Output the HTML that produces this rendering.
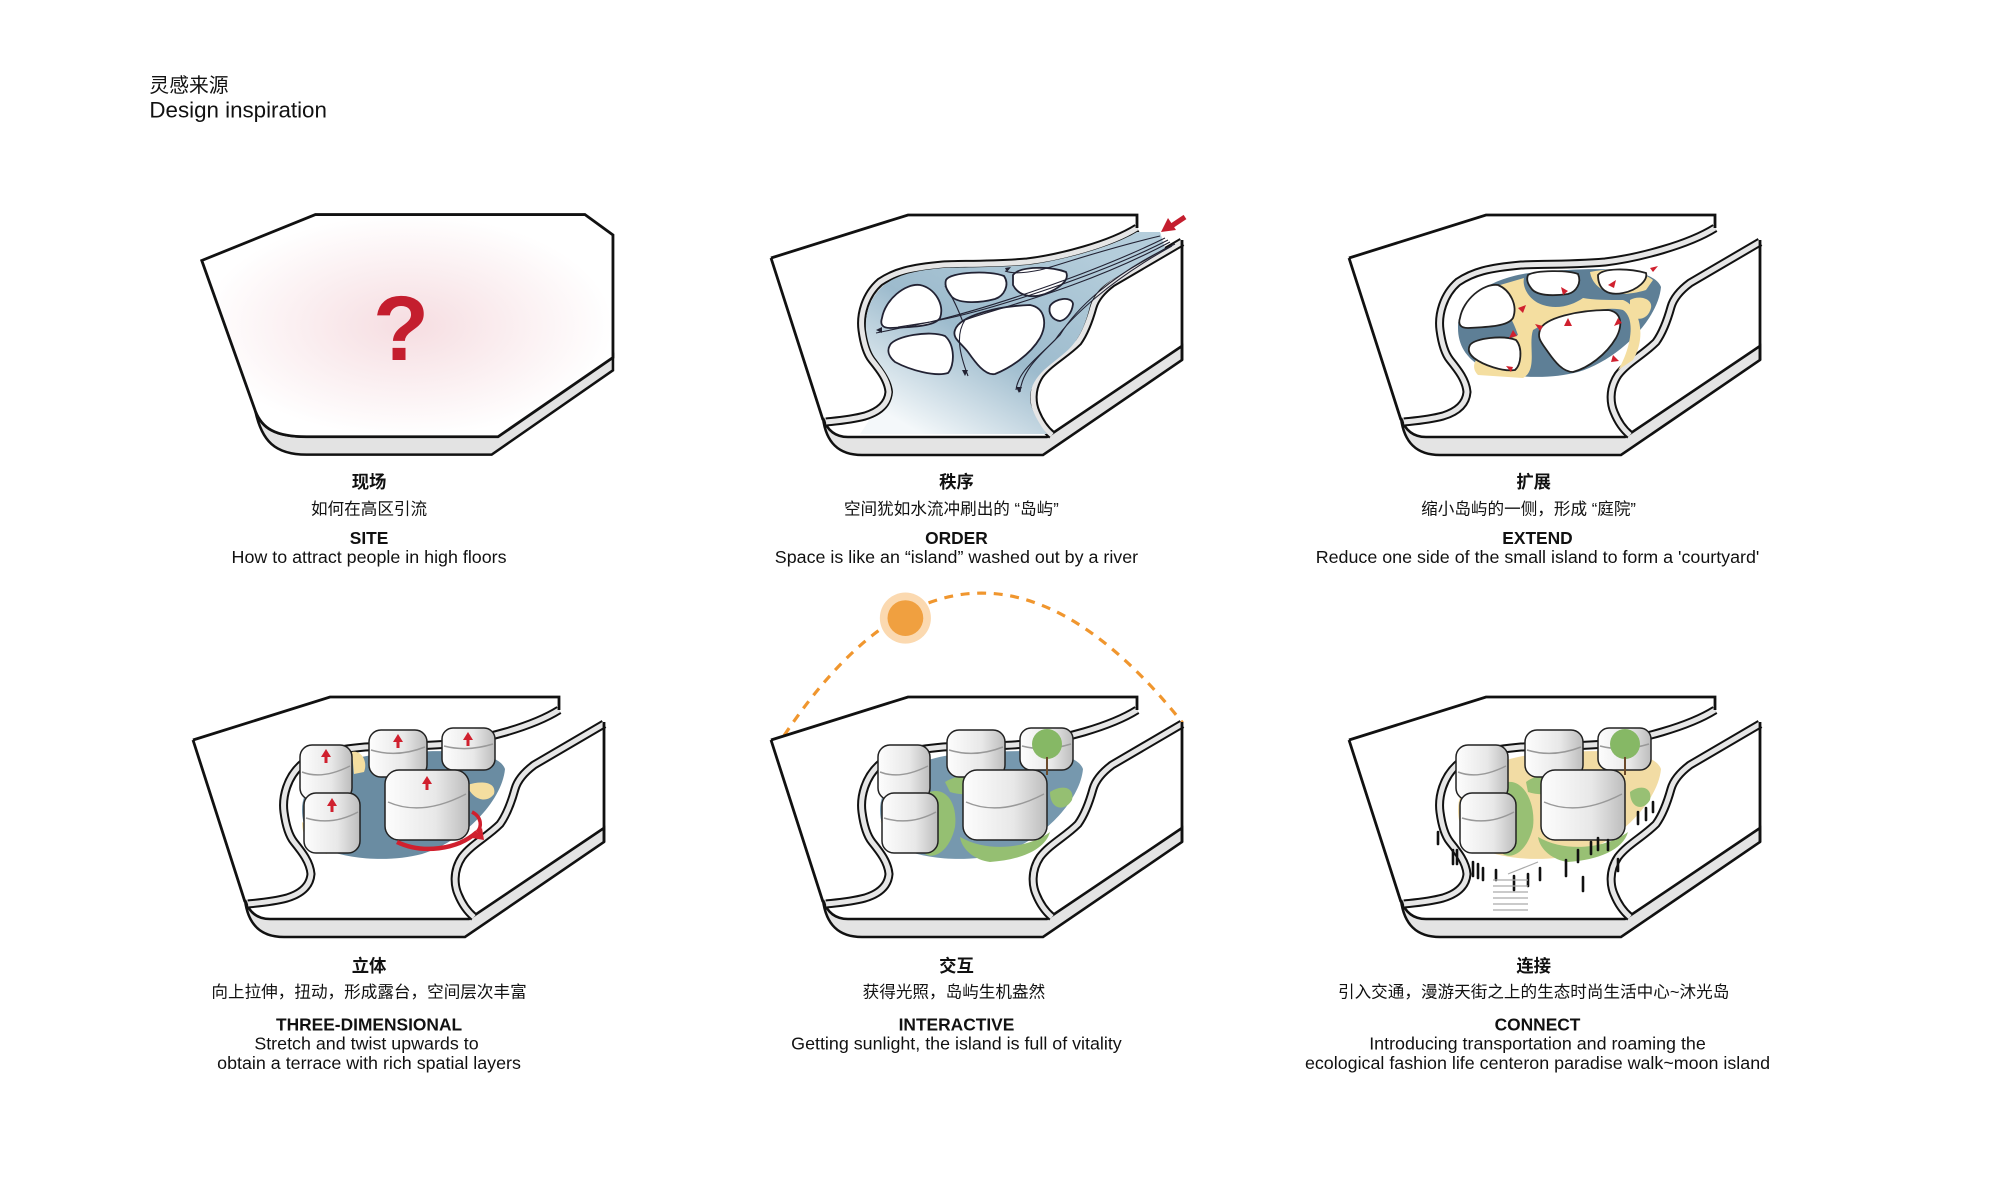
<!DOCTYPE html>
<html><head><meta charset="utf-8"><style>
html,body{margin:0;padding:0;background:#fff}
svg{display:block}
text{font-family:"Liberation Sans","Noto Sans CJK SC",sans-serif;fill:#111}
.c{text-anchor:middle;font-size:13px}
.e{text-anchor:middle;font-size:14px}
.b{font-weight:bold;font-size:13.6px}
</style></head><body>
<svg width="2000" height="1186" viewBox="0 0 2000 1186" xmlns="http://www.w3.org/2000/svg">
<defs>
<radialGradient id="pink" cx="0.5" cy="0.5" r="0.5"><stop offset="0" stop-color="#f6dde1"/><stop offset="1" stop-color="#fff"/></radialGradient>
<linearGradient id="blue" x1="0.9" y1="0.2" x2="0.2" y2="1"><stop offset="0" stop-color="#b4cddb"/><stop offset="0.55" stop-color="#9dbbcd"/><stop offset="1" stop-color="#f4f8fa"/></linearGradient>
<linearGradient id="bld" x1="0" y1="0" x2="1" y2="0"><stop offset="0" stop-color="#fdfdfd"/><stop offset="0.6" stop-color="#e8e8e8"/><stop offset="1" stop-color="#bdbdbd"/></linearGradient>
<path id="w1" d="M1137,228 C1110,245 1060,258 1027,262 C990,265 960,264 943,265 C910,268 895,272 880,282 C865,295 860,315 862,330 C864,345 868,355 872,360 C880,370 888,380 889,392 C888,405 878,412 865,416 C850,420 835,421 826,422"/>
<path id="w2" d="M1182,242 L1112,283 C1100,292 1095,300 1093,307 C1088,325 1083,335 1078,342 C1065,355 1050,362 1040,375 C1030,390 1033,405 1036,412 C1040,422 1046,430 1052,435"/>
<g id="slab">
 <path d="M771,258 L908,215 L1137,215 L1137,228 L1182,240 L1182,350 L1047,440 L845,440 L823,420Z" fill="#fff"/>
 <path d="M823,418 C826,442 838,455 862,455 L1043,455 L1182,360 L1182,346 L1047,437 L848,437 C835,437 827,430 823,418Z" fill="#e4e4e4" stroke="#111" stroke-width="2.6"/>
 <use href="#w1" fill="none" stroke="#111" stroke-width="9"/>
 <use href="#w1" fill="none" stroke="#e6e6e6" stroke-width="5"/>
 <use href="#w2" fill="none" stroke="#111" stroke-width="9"/>
 <use href="#w2" fill="none" stroke="#e6e6e6" stroke-width="5"/>
 <path d="M771,258 L908,215 L1137,215 L1137,228 M771,258 L823,420 M1182,240 L1182,360" fill="none" stroke="#111" stroke-width="2.8"/>
</g>
<path id="isl" d="M880,328 C880,295 920,275 960,272 C1010,268 1075,265 1083,287 C1080,320 1040,360 1000,372 C970,380 930,378 905,368 C888,358 880,345 880,328Z"/>
<g id="blds" stroke="#222" stroke-width="1.5">
 <rect x="878" y="263" width="52" height="55" rx="12" fill="url(#bld)"/>
 <path d="M880,290 Q900,298 928,284" fill="none" stroke="#999"/>
 <rect x="947" y="248" width="58" height="47" rx="12" fill="url(#bld)"/>
 <path d="M949,268 Q975,276 1003,265" fill="none" stroke="#999"/>
 <rect x="1020" y="246" width="53" height="42" rx="11" fill="url(#bld)"/>
 <path d="M1022,264 Q1045,270 1071,262" fill="none" stroke="#999"/>
 <rect x="882" y="311" width="56" height="60" rx="12" fill="url(#bld)"/>
 <path d="M884,336 Q910,344 936,330" fill="none" stroke="#999"/>
 <rect x="963" y="288" width="84" height="70" rx="14" fill="url(#bld)"/>
 <path d="M966,320 Q1000,335 1044,312" fill="none" stroke="#999"/>
</g>
</defs>

<g transform="scale(1.277)">
<text x="117" y="72" style="font-size:15.5px">灵感来源</text>
<text x="117" y="92" style="font-size:17.5px">Design inspiration</text>
<!-- Panel 1 -->
<path d="M200,322 C205,345 215,356 240,356 L385,356 L480,290 L480,278 L385,340 L240,342 C215,342 205,335 200,322 Z" fill="#e3e3e3" stroke="#111" stroke-width="2"/>
<path d="M158,204 L247,168 L458,168 L480,184 L480,280 L390,342 L240,342 C215,342 205,335 200,322 Z" fill="url(#pink)" stroke="#111" stroke-width="2.2"/>
<text x="314" y="282" style="font-size:72px;font-weight:bold;fill:#c41e2e" text-anchor="middle">?</text>
<!-- Sun -->
<path d="M614,576 Q760,358 926,566" fill="none" stroke="#f0962e" stroke-width="2.5" stroke-dasharray="7,6"/>
<circle cx="709" cy="484" r="20" fill="#fbd9b0"/>
<circle cx="709" cy="484" r="14" fill="#f0a040"/>
</g>

<!-- Panel 2 -->
<use href="#slab"/>
<path d="M1137,232 C1110,248 1060,261 1027,265 C990,268 960,267 943,268 C912,271 898,275 884,285 C869,298 865,315 866,330 C868,345 872,354 876,359 C884,370 892,380 893,392 C892,405 884,414 870,419 L860,434 L1047,434 C1040,425 1034,415 1031,405 C1028,390 1034,380 1044,370 C1055,360 1068,352 1075,342 C1082,332 1086,322 1090,306 C1093,297 1098,289 1110,281 L1165,248 L1160,232Z" fill="url(#blue)"/>
<g fill="#fff" stroke="#223" stroke-width="1.8">
<path d="M882,318 C885,300 905,283 920,285 C935,288 945,305 940,318 C935,326 915,327 890,328 C882,328 880,324 882,318Z"/>
<path d="M946,280 C950,272 990,270 1004,276 C1010,285 1004,296 995,299 C980,303 960,304 952,297 C948,292 944,286 946,280Z"/>
<path d="M1013,275 C1020,266 1050,266 1066,272 C1070,280 1060,288 1045,294 C1030,299 1018,295 1013,285Z"/>
<path d="M1050,306 C1055,298 1072,296 1073,304 C1072,313 1066,320 1060,321 C1052,320 1048,313 1050,306Z"/>
<path d="M955,330 C960,315 1000,306 1030,305 C1046,308 1047,325 1040,338 C1030,355 1010,368 995,374 C985,376 975,362 968,352 C960,342 952,338 955,330Z"/>
<path d="M890,345 C895,336 930,330 945,336 C955,345 955,365 948,373 C935,377 910,370 895,362 C888,356 887,350 890,345Z"/>
</g>
<g fill="none" stroke="#223" stroke-width="1.1">
<path d="M1160,236 C1100,250 1060,265 1040,270 C1020,274 1010,273 1005,271"/>
<path d="M1165,238 C1100,270 1000,305 930,322 L898,327"/>
<path d="M1168,240 C1100,275 990,310 940,320 C910,326 890,330 876,333"/>
<path d="M1170,242 C1080,290 990,310 965,320 C955,335 960,355 968,376"/>
<path d="M1175,244 C1110,275 1075,310 1060,335 C1040,355 1022,370 1020,392"/>
<path d="M1172,246 C1110,280 1070,318 1055,340 C1035,360 1018,372 1016,390"/>
<path d="M945,286 C955,300 960,315 963,322"/>
</g>
<g fill="#223"><path d="M876,330 l6,-3 v6Z M965,376 l-3,-6 h6Z M1019,393 l-3,-6 h6Z M1005,268 l6,-1 l-4,5Z"/></g>
<path d="M1185,217 L1170,227" stroke="#c41e2e" stroke-width="5"/><path d="M1161,232 L1168,218 L1176,230Z" fill="#c41e2e"/>

<!-- Panel 3 -->
<g transform="translate(578,0)">
<use href="#slab"/>
<use href="#isl" fill="#5e7f96"/>
<g fill="#f4dea0">
<path d="M905,290 C925,300 935,320 940,335 L920,345 C900,352 890,365 900,375 L945,378 C960,370 950,345 955,330 C980,315 1030,305 1045,310 C1060,320 1050,355 1040,370 L1055,360 C1070,335 1060,305 1045,300 C1030,300 1015,300 1005,298 C995,305 980,310 965,305 C950,300 944,286 946,278Z"/>
<path d="M1012,272 C1015,290 1035,300 1068,290 L1075,280 C1060,268 1030,268 1012,272Z"/>
<path d="M1052,300 C1060,295 1075,298 1073,308 C1070,320 1058,322 1052,314Z"/>
</g>
<g fill="#fff" stroke="#222" stroke-width="1.8">
<path d="M882,318 C885,300 905,283 920,285 C932,290 940,305 935,318 C930,326 912,327 890,328 C882,328 880,324 882,318Z"/>
<path d="M950,275 C958,270 990,270 1000,274 C1004,283 998,292 990,294 C975,296 958,296 953,288 C950,284 948,280 950,275Z"/>
<path d="M1020,275 C1025,268 1050,268 1068,273 C1070,280 1060,290 1045,293 C1030,296 1020,290 1020,275Z"/>
<path d="M962,330 C966,318 1000,310 1030,310 C1044,312 1045,325 1038,338 C1028,355 1010,368 995,372 C985,372 977,362 970,352 C963,342 959,338 962,330Z"/>
<path d="M892,345 C897,338 925,335 938,340 C945,348 943,365 937,370 C925,372 905,365 896,358 C890,353 890,349 892,345Z"/>
</g>
<g fill="#d0202e"><path d="M940,308 l8,-3 l-3,8Z M935,330 l-4,8 l8,-2Z M985,295 l-2,-8 l7,4Z M990,318 l4,8 l-8,0Z M965,326 l-8,-2 l5,7Z M1040,318 l-4,8 l8,-3Z M1030,285 l8,-5 l-2,8Z M1072,268 l8,-2 l-5,6Z M1035,355 l6,6 l-8,1Z M935,367 l-7,-1 l5,6Z"/></g>
</g>

<!-- Panel 4 -->
<g transform="translate(-578,482)">
<use href="#slab"/>
<use href="#isl" fill="#6a8ca2"/>
<path d="M930,270 C940,268 946,280 942,290 L932,292Z M1045,303 C1060,298 1075,300 1072,312 C1065,322 1050,318 1045,303Z M880,340 C880,355 888,368 905,372 L898,352Z M1020,252 C1030,255 1034,270 1028,272Z" fill="#f4dea0"/>
<use href="#blds"/>
<g fill="#d0202e"><path d="M904,267 l-5,8 h10Z M976,252 l-5,8 h10Z M1046,250 l-5,8 h10Z M910,316 l-5,8 h10Z M1005,294 l-5,8 h10Z"/></g>
<g stroke="#d0202e" stroke-width="3"><path d="M904,274v7M976,259v7M1046,257v7M910,323v7M1005,301v7"/></g>
<path d="M975,360 C1000,372 1035,368 1055,350" stroke="#d0202e" stroke-width="4.5" fill="none"/>
<path d="M1050,330 C1060,335 1060,345 1055,350" stroke="#d0202e" stroke-width="3.5" fill="none"/>
<path d="M1050,356 l10,-10 l2,12Z" fill="#d0202e"/>
</g>

<!-- Panel 5 -->
<g transform="translate(0,482)">
<use href="#slab"/>
<use href="#isl" fill="#7698ae"/>
<path d="M930,310 C945,305 958,320 955,345 C950,368 935,378 925,372 C922,350 922,325 930,310Z M960,355 C990,372 1030,365 1050,350 C1045,368 1020,378 990,380 C975,378 962,368 960,355Z M1050,310 C1062,302 1075,305 1072,318 C1065,330 1050,328 1050,310Z M945,300 C960,290 990,292 1000,300 C990,312 965,315 950,310Z" fill="#95bf72"/>
<path d="M1040,304 C1045,300 1050,306 1046,312Z M880,338 C885,350 892,362 900,368Z" fill="#f4dea0"/>
<use href="#blds"/>
<circle cx="1047" cy="262" r="15" fill="#86b865"/>
<path d="M1047,275v18" stroke="#6b4a2b" stroke-width="2"/>
</g>

<!-- Panel 6 -->
<g transform="translate(578,482)">
<use href="#slab"/>
<use href="#isl" fill="#f2dca4"/>
<path d="M930,300 C945,298 958,320 955,345 C950,368 935,378 925,372 C922,350 922,325 930,300Z M960,355 C990,372 1030,365 1050,350 C1045,368 1020,378 990,380 C975,378 962,368 960,355Z M1052,310 C1062,302 1075,305 1072,318 C1065,330 1052,326 1052,310Z M948,300 C960,290 985,292 995,300 C985,312 965,315 950,310Z" fill="#98c074"/>
<use href="#blds"/>
<circle cx="1047" cy="262" r="15" fill="#86b865"/>
<path d="M1047,275v18" stroke="#6b4a2b" stroke-width="2"/>
<g stroke="#111" stroke-width="2.6" stroke-linecap="round">
<path d="M875,368v14M879,368v14M895,380v14M900,382v14M905,386v12M918,388v10M936,394v14M950,392v12M962,386v12M988,378v16M1000,368v12M1013,360v12M1020,356v12M1030,358v10M1060,330v12M1068,326v12M1075,320v10M860,350v12M1005,395v14M1040,377v12"/>
</g>
<g stroke="#aaa" stroke-width="1.2" fill="none">
<path d="M915,398h35M915,404h35M915,410h35M915,416h35M915,422h35M915,428h35M930,392l30,-12"/>
</g>
</g>

<!-- Captions -->
<g transform="scale(1.277)">
<text x="289" y="382" class="c b">现场</text>
<text x="289" y="403" class="c">如何在高区引流</text>
<text x="289" y="426" class="c b">SITE</text>
<text x="289" y="441" class="e">How to attract people in high floors</text>

<text x="749" y="382" class="c b">秩序</text>
<text x="745" y="403" class="c">空间犹如水流冲刷出的 “岛屿”</text>
<text x="749" y="426" class="c b">ORDER</text>
<text x="749" y="441" class="e">Space is like an  “island”  washed out by a river</text>

<text x="1201" y="382" class="c b">扩展</text>
<text x="1197" y="403" class="c">缩小岛屿的一侧，形成 “庭院”</text>
<text x="1204" y="426" class="c b">EXTEND</text>
<text x="1204" y="441" class="e">Reduce one side of the small island to form a 'courtyard'</text>

<text x="289" y="761" class="c b">立体</text>
<text x="289" y="781" class="c">向上拉伸，扭动，形成露台，空间层次丰富</text>
<text x="289" y="807" class="c b">THREE-DIMENSIONAL</text>
<text x="287" y="822" class="e">Stretch and twist upwards to</text>
<text x="289" y="837" class="e">obtain a terrace with rich spatial layers</text>

<text x="749" y="761" class="c b">交互</text>
<text x="747" y="781" class="c">获得光照，岛屿生机盎然</text>
<text x="749" y="807" class="c b">INTERACTIVE</text>
<text x="749" y="822" class="e">Getting sunlight, the island is full of vitality</text>

<text x="1201" y="761" class="c b">连接</text>
<text x="1201" y="781" class="c">引入交通，漫游天街之上的生态时尚生活中心~沐光岛</text>
<text x="1204" y="807" class="c b">CONNECT</text>
<text x="1204" y="822" class="e">Introducing transportation and roaming the</text>
<text x="1204" y="837" class="e">ecological fashion life centeron paradise walk~moon island</text>
</g>
</svg>
</body></html>
